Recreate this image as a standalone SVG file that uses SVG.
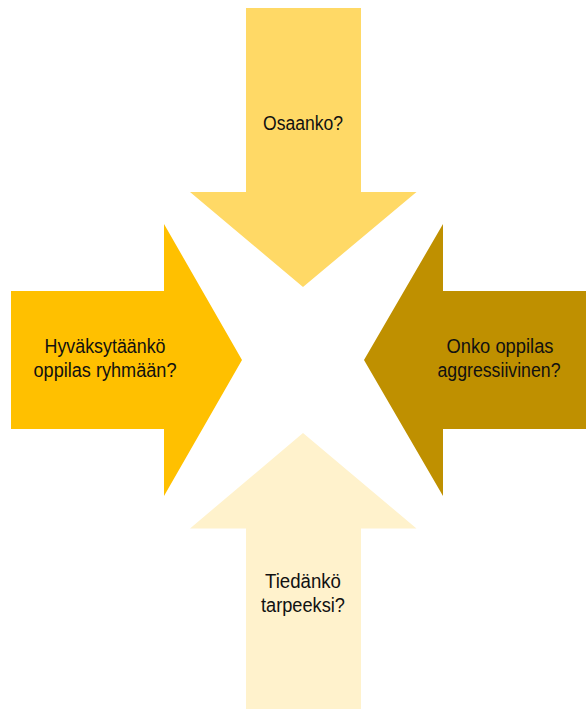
<svg xmlns="http://www.w3.org/2000/svg" width="586" height="709" viewBox="0 0 586 709">
<style>
.lbl{font-family:"Liberation Sans",Arial,sans-serif;font-size:20px;fill:#111;text-anchor:middle}
</style>
<rect width="586" height="709" fill="#fff"/>
<g id="top">
<polygon points="246,8 361,8 361,192 416.5,192 303,287 190,192 246,192" fill="#FFD966"/>
<text class="lbl" x="303" y="130" textLength="80" lengthAdjust="spacingAndGlyphs">Osaanko?</text>
</g>
<g id="left">
<polygon points="11,291 164,291 164,224 242,360 164,496 164,429 11,429" fill="#FFC000"/>
<text class="lbl" x="105" y="353" textLength="121" lengthAdjust="spacingAndGlyphs">Hyväksytäänkö</text>
<text class="lbl" x="105" y="377" textLength="143" lengthAdjust="spacingAndGlyphs">oppilas ryhmään?</text>
</g>
<g id="right">
<polygon points="586,291 443,291 443,224 364,360 443,496 443,429 586,429" fill="#BF9000"/>
<text class="lbl" x="500" y="353" textLength="107" lengthAdjust="spacingAndGlyphs">Onko oppilas</text>
<text class="lbl" x="499" y="377" textLength="123" lengthAdjust="spacingAndGlyphs">aggressiivinen?</text>
</g>
<g id="bottom">
<polygon points="246,709 361,709 361,528.5 416.5,528.5 303,433 190,528.5 246,528.5" fill="#FFF2CC"/>
<text class="lbl" x="303" y="588" textLength="76" lengthAdjust="spacingAndGlyphs">Tiedänkö</text>
<text class="lbl" x="303" y="612" textLength="84" lengthAdjust="spacingAndGlyphs">tarpeeksi?</text>
</g>
<g id="connectors"/>
</svg>
